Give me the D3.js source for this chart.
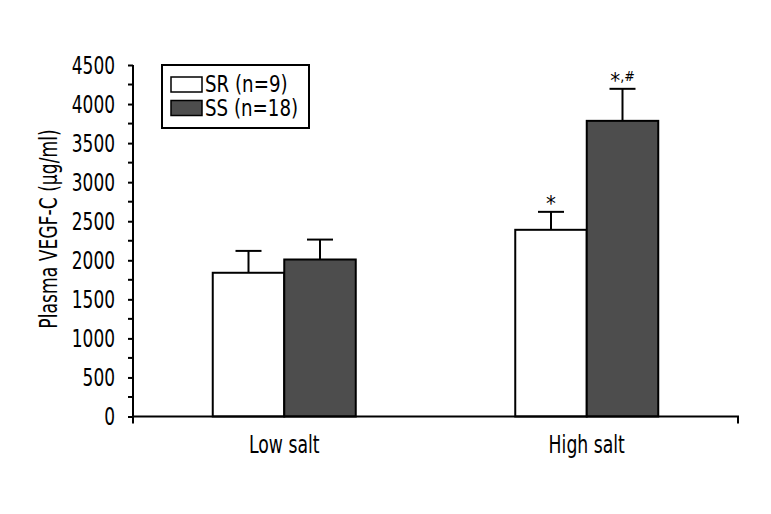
<!DOCTYPE html>
<html><head><meta charset="utf-8">
<script src="https://cdn.jsdelivr.net/npm/d3@7"></script>
<style>
body{margin:0;background:#fff;}
text{font-family:"DejaVu Sans Condensed","Liberation Sans Narrow",sans-serif;fill:#000;}
</style></head>
<body><svg id="c" width="771" height="514"></svg>
<script>
const categories = ["Low salt", "High salt"];
const seriesNames = ["SR (n=9)", "SS (n=18)"];
const srValues = [1840, 2390];
const srErrors = [280, 230];
const ssValues = [2010, 3785];
const ssErrors = [255, 410];
const annotations = [["", ""], ["*", "*,#"]];
const yTicks = [0, 500, 1000, 1500, 2000, 2500, 3000, 3500, 4000, 4500];
const yMinorTicks = d3.range(250, 4500, 500);

(function () {
const series = [
  {name: seriesNames[0], values: srValues, errors: srErrors, fill: "#ffffff"},
  {name: seriesNames[1], values: ssValues, errors: ssErrors, fill: "#4d4d4d"}
];

const svg = d3.select("#c");
const mLeft = 133, mRight = 738, mTop = 65, mBottom = 416.5;
const FONT = '"DejaVu Sans Condensed","Liberation Sans Narrow",sans-serif';

function squeeze(sel, f) {
  sel.each(function () {
    const w = this.getComputedTextLength();
    d3.select(this).attr("textLength", w * f).attr("lengthAdjust", "spacingAndGlyphs");
  });
}

const y = d3.scaleLinear().domain([0, 4500]).range([mBottom, mTop]);
const x = d3.scaleBand().domain(categories).range([mLeft, mRight]).padding(0);
const inner = d3.scaleBand().domain([0, 1]).range([0, 143]).padding(0);
const groupOffset = (x.bandwidth() - 143) / 2;

categories.forEach((cat, ci) => {
  series.forEach((s, si) => {
    const bx = x(cat) + groupOffset + inner(si);
    const bw = inner.bandwidth();
    const cx = bx + bw / 2;
    const v = s.values[ci], e = s.errors[ci];
    svg.append("line").attr("x1", cx).attr("x2", cx).attr("y1", y(v)).attr("y2", y(v + e))
      .attr("stroke", "#000").attr("stroke-width", 2);
    svg.append("line").attr("x1", cx - 13).attr("x2", cx + 13).attr("y1", y(v + e)).attr("y2", y(v + e))
      .attr("stroke", "#000").attr("stroke-width", 2);
    svg.append("rect").attr("x", bx).attr("y", y(v)).attr("width", bw).attr("height", y(0) - y(v))
      .attr("fill", s.fill).attr("stroke", "#000").attr("stroke-width", 2);
    const a = annotations[ci][si];
    if (a) {
      const chars = a.split("");
      const shift = c => (c === "*" ? 7 : 0);
      const t = svg.append("text").attr("x", cx).attr("y", y(v + e) - 8).attr("text-anchor", "middle")
        .attr("font-size", 14);
      t.selectAll("tspan").data(chars).enter().append("tspan")
        .attr("font-size", c => (c === "*" ? 22 : 14))
        .attr("dy", (c, i) => shift(c) - (i > 0 ? shift(chars[i - 1]) : 0))
        .text(c => c);
    }
  });
});

const yAxis = d3.axisLeft(y).tickValues(yTicks).tickSize(5).tickPadding(13).tickFormat(d3.format("d"));
const gy = svg.append("g").attr("transform", `translate(${mLeft},0)`).call(yAxis);
gy.select(".domain").attr("stroke", "#000").attr("stroke-width", 2).attr("d", `M0,${mBottom}V${mTop}`);
gy.selectAll(".tick line").attr("stroke", "#000").attr("stroke-width", 2);
gy.selectAll(".tick text").attr("font-size", 25).attr("font-family", FONT).attr("fill", "#000");
squeeze(gy.selectAll(".tick text"), 0.755);
gy.selectAll(".minor").data(yMinorTicks).enter().append("line").attr("class", "minor")
  .attr("x1", -5).attr("x2", 0).attr("y1", d => y(d)).attr("y2", d => y(d))
  .attr("stroke", "#000").attr("stroke-width", 2);

const xAxis = d3.axisBottom(x).tickSize(0).tickPadding(19);
const gx = svg.append("g").attr("transform", `translate(0,${mBottom})`).call(xAxis);
gx.select(".domain").attr("stroke", "#000").attr("stroke-width", 2).attr("d", `M${mLeft},7V0H${mRight}V7`);
gx.selectAll(".tick text").attr("font-size", 25).attr("font-family", FONT).attr("fill", "#000");
squeeze(gx.selectAll(".tick text"), 0.767);

const title = svg.append("text").attr("transform", `translate(57,229) rotate(-90)`).attr("text-anchor", "middle")
  .attr("font-size", 25).text("Plasma VEGF-C (µg/ml)");
squeeze(title, 0.764);

const lg = svg.append("g").attr("transform", "translate(162,65)");
lg.append("rect").attr("width", 147).attr("height", 63).attr("fill", "#fff").attr("stroke", "#000").attr("stroke-width", 2);
series.forEach((s, i) => {
  lg.append("rect").attr("x", 9).attr("y", 12 + i * 23.5).attr("width", 31).attr("height", 15)
    .attr("fill", s.fill).attr("stroke", "#000").attr("stroke-width", 1.5);
  const t = lg.append("text").attr("x", 43).attr("y", 27 + i * 23.5).attr("font-size", 23).text(s.name);
  squeeze(t, 0.88);
});
})();
</script></body></html>
